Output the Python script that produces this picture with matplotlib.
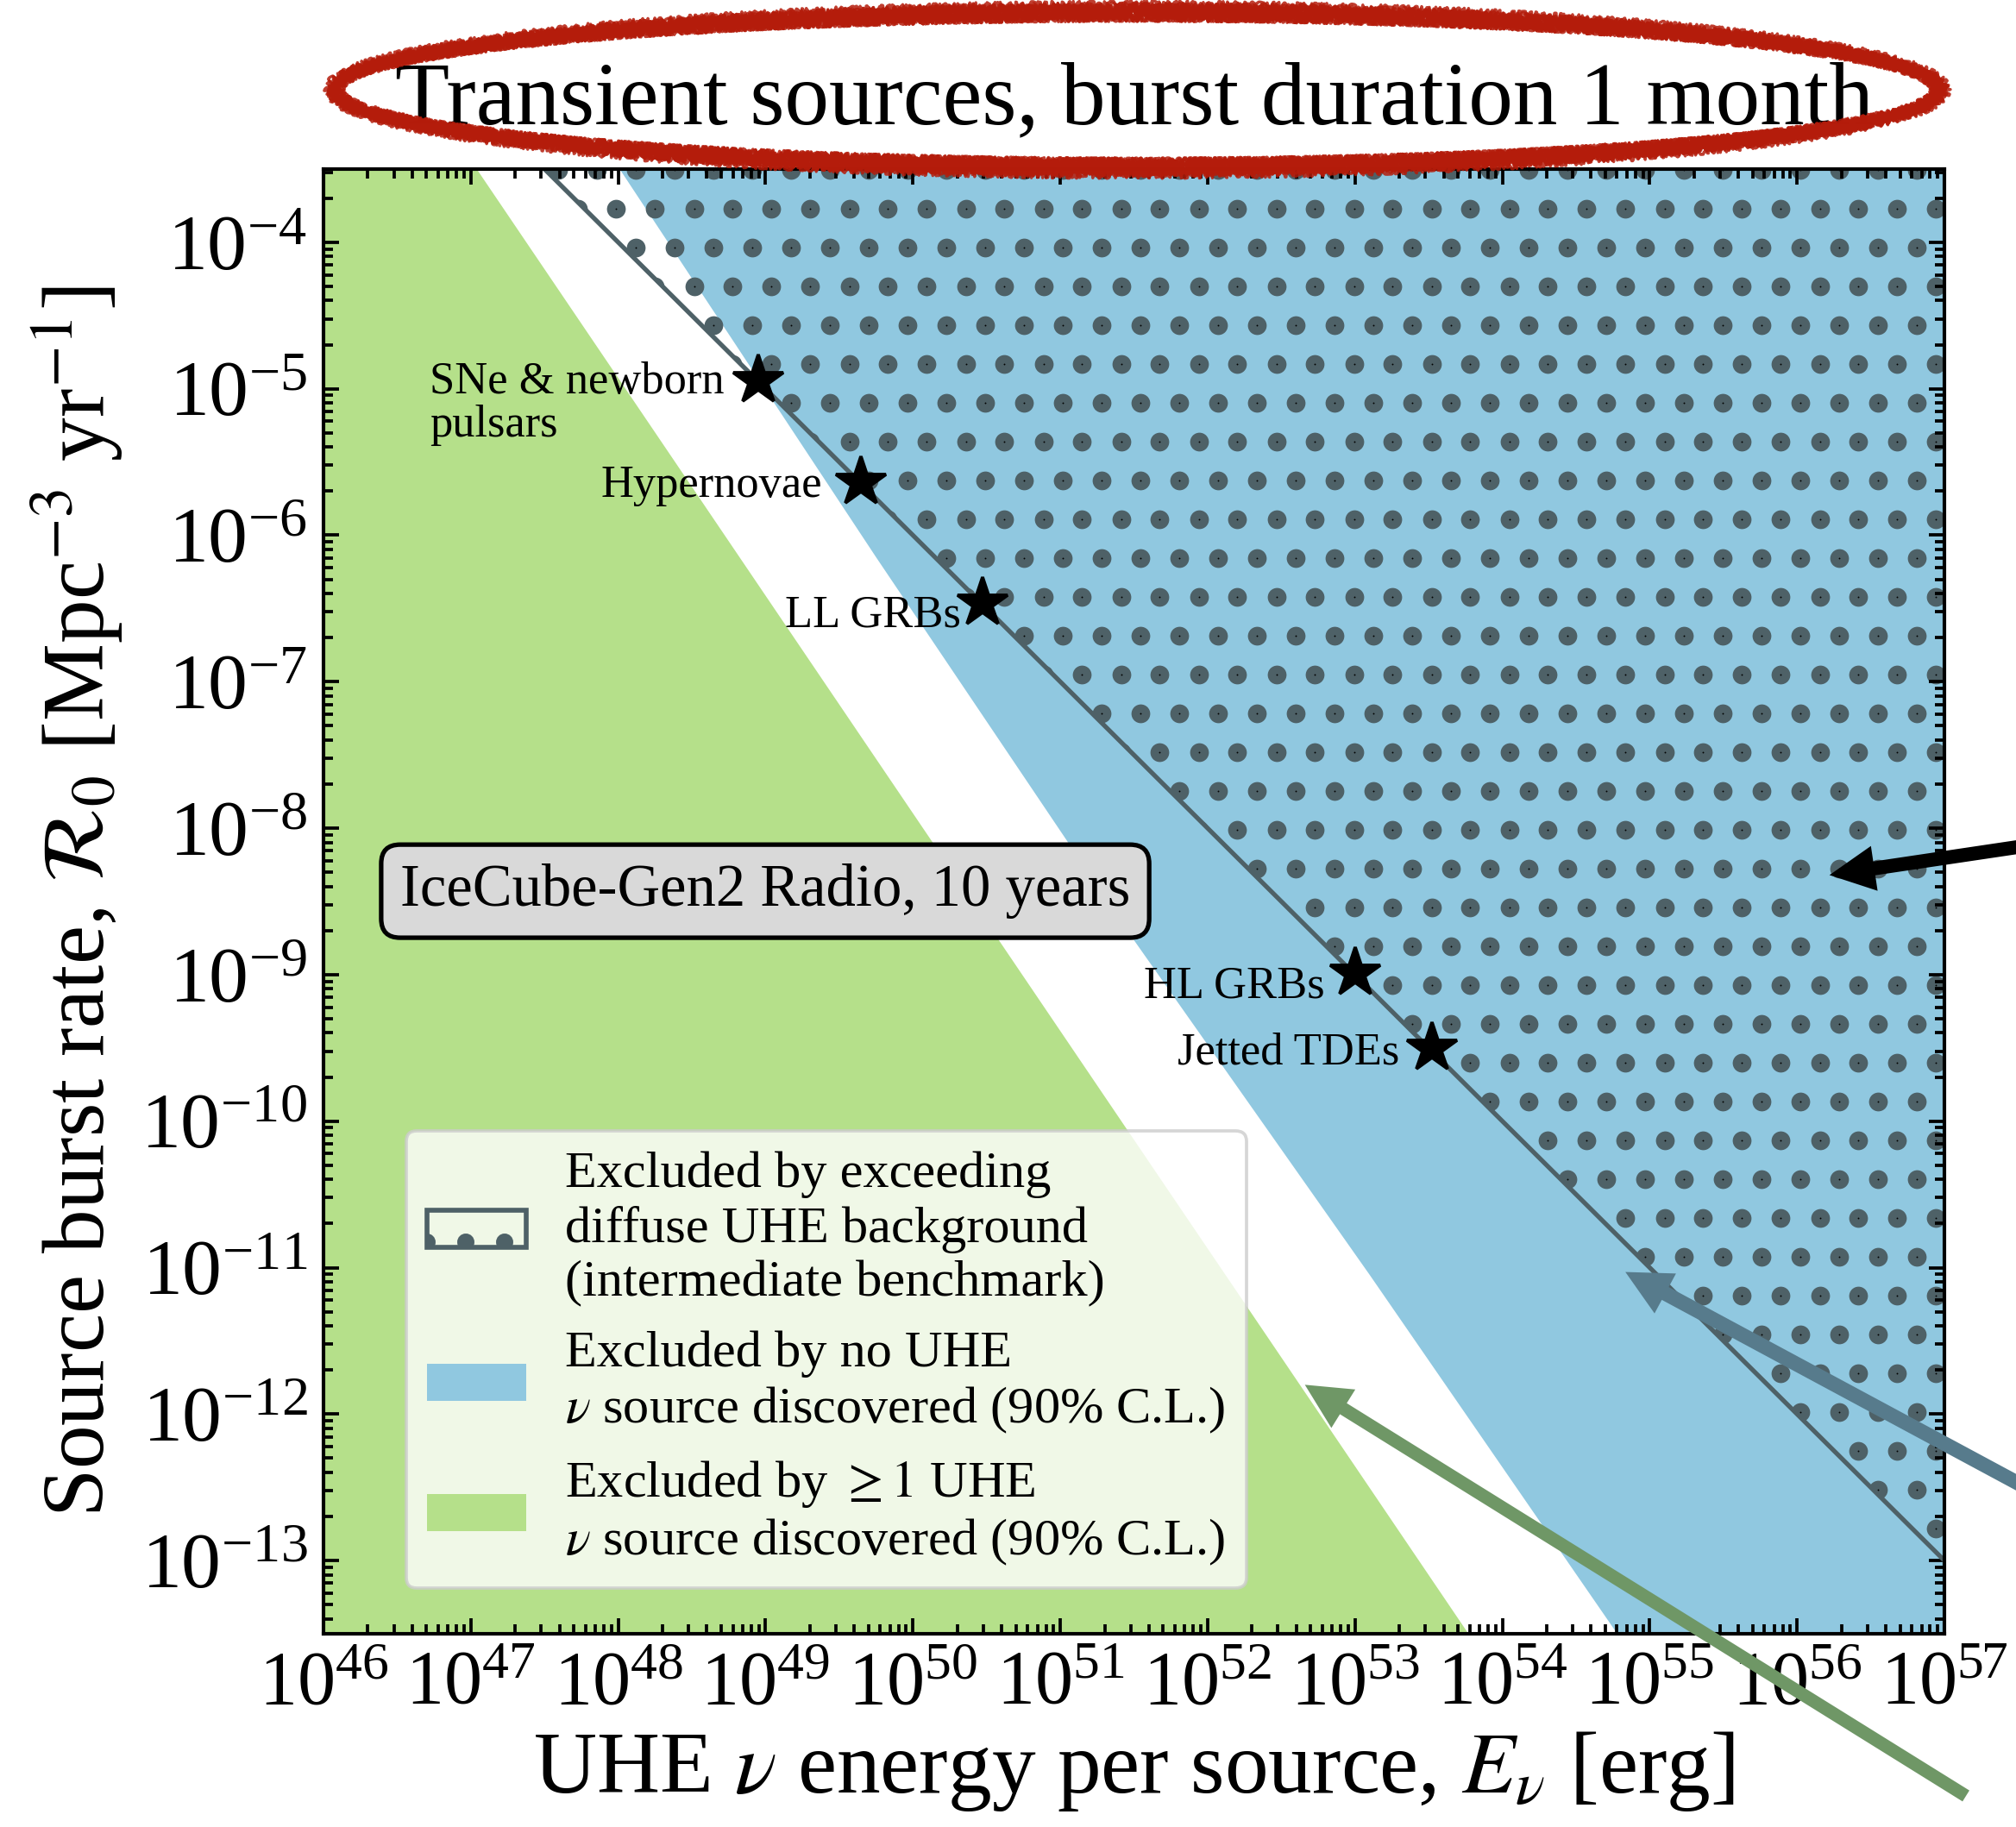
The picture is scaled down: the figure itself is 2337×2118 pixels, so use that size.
import numpy as np
import matplotlib
matplotlib.use("Agg")
import matplotlib.pyplot as plt
from matplotlib.patches import Patch
from matplotlib.ticker import LogLocator, NullFormatter

plt.rcParams['font.family'] = ['Liberation Serif', 'DejaVu Serif']
plt.rcParams['mathtext.fontset'] = 'stix'
plt.rcParams['hatch.linewidth'] = 2.9

# axis ranges
xlim = (1e46, 1e57)
ylim = (10**-13.5, 10**-3.5)

# boundary of the ">= 1 source discovered" region (green)
E_green = [10**47.04, 10**53.77]
R_green = [10**-3.5, 10**-13.5]

# boundary of the "no source discovered" region (blue)
E_blue = [10**48.01, 10**49.75, 10**51.49, 10**53.1, 10**54.78]
R_blue = [10**-3.5, 10**-6.15, 10**-8.75, 10**-11.05, 10**-13.5]

# diffuse background benchmark (E * R = const)
E_bg = [10**47.5, 1e57]
R_bg = [10**-3.5, 1e-13]

# source classes
src_names = ["SNe & newborn\npulsars", "Hypernovae", "LL GRBs", "HL GRBs", "Jetted TDEs"]
src_E = [10**48.95, 10**49.65, 10**50.47, 10**53.0, 10**53.52]
src_R = [10**-4.94, 10**-5.64, 10**-6.46, 10**-8.99, 10**-9.5]
src_off = [(-10.5, -17.5), (-12, -4.5), (-6.5, -7.5), (-9.3, -7.5), (-10, -5)]

green = '#b5e08a'
blue = '#90c8e0'
slate = '#4e6167'

W, H = 2337, 2118
dpi = 270
fig = plt.figure(figsize=(W / dpi, H / dpi), dpi=dpi)
ax = fig.add_axes([375 / W, 1 - 1894 / H, 1879 / W, 1698 / H])
ax.set_xscale('log')
ax.set_yscale('log')
ax.set_xlim(xlim)
ax.set_ylim(ylim)

# green region
ax.fill([xlim[0]] + E_green + [xlim[0]], [ylim[1]] + R_green + [ylim[0]],
        color=green, lw=0, zorder=1)
# blue region
ax.fill(E_blue + [xlim[1], xlim[1]], R_blue + [ylim[0], ylim[1]],
        color=blue, lw=0, zorder=1.1)
# region above the diffuse benchmark, dotted texture (45 px grid)
bg_poly = ax.fill(E_bg + [xlim[1]], R_bg + [ylim[1]], facecolor='none', lw=0, zorder=1.2)[0]
gx, gy = [], []
for j in range(48):
    yy = 17 + 45 * j
    x0 = 17 + (22.5 if j % 2 else 0)
    for i in range(53):
        gx.append(x0 + 45 * i)
        gy.append(H - yy)
pts = ax.transData.inverted().transform(np.column_stack([gx, gy]))
dots = ax.plot(pts[:, 0], pts[:, 1], 'o', ms=5.8, mec='none', color=slate, zorder=1.3)[0]
dots.set_clip_path(bg_poly)
cdots = ax.plot(pts[:, 0], pts[:, 1], 'o', ms=0.5, mec='none', color='k', zorder=1.31)[0]
cdots.set_clip_path(bg_poly)
ax.plot(E_bg, R_bg, color=slate, lw=1.4, zorder=2)

ax.plot(src_E, src_R, '*', color='k', ms=16, zorder=6)
for name, e, r, off in zip(src_names, src_E, src_R, src_off):
    ax.annotate(name, (e, r), xytext=off, textcoords='offset points', linespacing=1.05,
                ha='right', va='baseline', ma='left', fontsize=14, zorder=6)

ax.text(0.2725, 0.507, "IceCube-Gen2 Radio, 10 years", transform=ax.transAxes,
        ha='center', va='center', fontsize=18.3, zorder=7,
        bbox=dict(boxstyle='round,pad=0.32', fc='#d9d9d9', ec='black', lw=1.4))

handles = [Patch(facecolor='none', edgecolor=slate, hatch='.', lw=1.5),
           Patch(facecolor=blue, lw=0),
           Patch(facecolor=green, lw=0)]
labels = ["Excluded by exceeding\ndiffuse UHE background\n(intermediate benchmark)",
          "Excluded by no UHE\n$\\nu$ source discovered (90% C.L.)",
          "Excluded by $\\geq 1$ UHE\n$\\nu$ source discovered (90% C.L.)"]
leg = ax.legend(handles, labels, loc='lower left', bbox_to_anchor=(0.051, 0.031),
                borderaxespad=0, fontsize=16.1, framealpha=0.8, edgecolor='0.8',
                handlelength=1.9, handletextpad=0.75, labelspacing=0.45)
leg.set_zorder(8)

ax.xaxis.set_major_locator(LogLocator(base=10, numticks=30))
ax.yaxis.set_major_locator(LogLocator(base=10, numticks=30))
ax.xaxis.set_minor_locator(LogLocator(base=10, subs=np.arange(2, 10), numticks=300))
ax.yaxis.set_minor_locator(LogLocator(base=10, subs=np.arange(2, 10), numticks=300))
ax.xaxis.set_minor_formatter(NullFormatter())
ax.yaxis.set_minor_formatter(NullFormatter())
ax.tick_params(which='both', direction='in', top=True, right=True, width=1.0)
ax.tick_params(axis='x', labelsize=23.5)
ax.tick_params(axis='y', labelsize=24.5)
ax.tick_params(which='major', length=4.8, pad=5)
ax.tick_params(which='minor', length=3.0)
for s in ax.spines.values():
    s.set_linewidth(1.1)
    s.set_zorder(9)

ax.set_xlabel(r"UHE $\nu$ energy per source, $E_\nu$ [erg]", fontsize=27, labelpad=3)
ax.set_ylabel(r"Source burst rate, $\mathcal{R}_0$ [Mpc$^{-3}$ yr$^{-1}$]", fontsize=27, labelpad=5)
ax.set_title("Transient sources, burst duration 1 month", fontsize=27.5, pad=14)

# hand-drawn red ellipse around the title (figure pixels, origin top-left)
t = np.linspace(0, 2 * np.pi, 500)
for k, d in enumerate(np.linspace(-16, 16, 15)):
    ex = 1318 + (930 + d / 2) * np.cos(t)
    ey = 104 + (90 + d / 2) * np.sin(t)
    ln = plt.Line2D(ex / W, 1 - ey / H, transform=fig.transFigure, color='#b41c0b',
                    lw=0.9, alpha=0.85, zorder=20)
    ln.set_sketch_params(scale=3 + k % 3, length=3 + k % 5, randomness=12)
    fig.add_artist(ln)

# arrows
arrows = [((10**56.22, 10**-8.32), (2500, 958), 'black', 4.3),
          ((10**54.835, 10**-11.03), (2450, 1779), '#577b8c', 4.5),
          ((10**52.66, 10**-11.80), (2279, 2082), '#6f9766', 4.0)]
for tip, tail, col, tw in arrows:
    ax.annotate("", xy=tip, xycoords='data', xytext=(tail[0] / W, 1 - tail[1] / H),
                textcoords='figure fraction', annotation_clip=False, zorder=15,
                arrowprops=dict(arrowstyle=f"simple,head_length=14,head_width=14,tail_width={tw}",
                                color=col, lw=0, shrinkA=0, shrinkB=0, mutation_scale=1))

fig.savefig('out.png', dpi=dpi)
